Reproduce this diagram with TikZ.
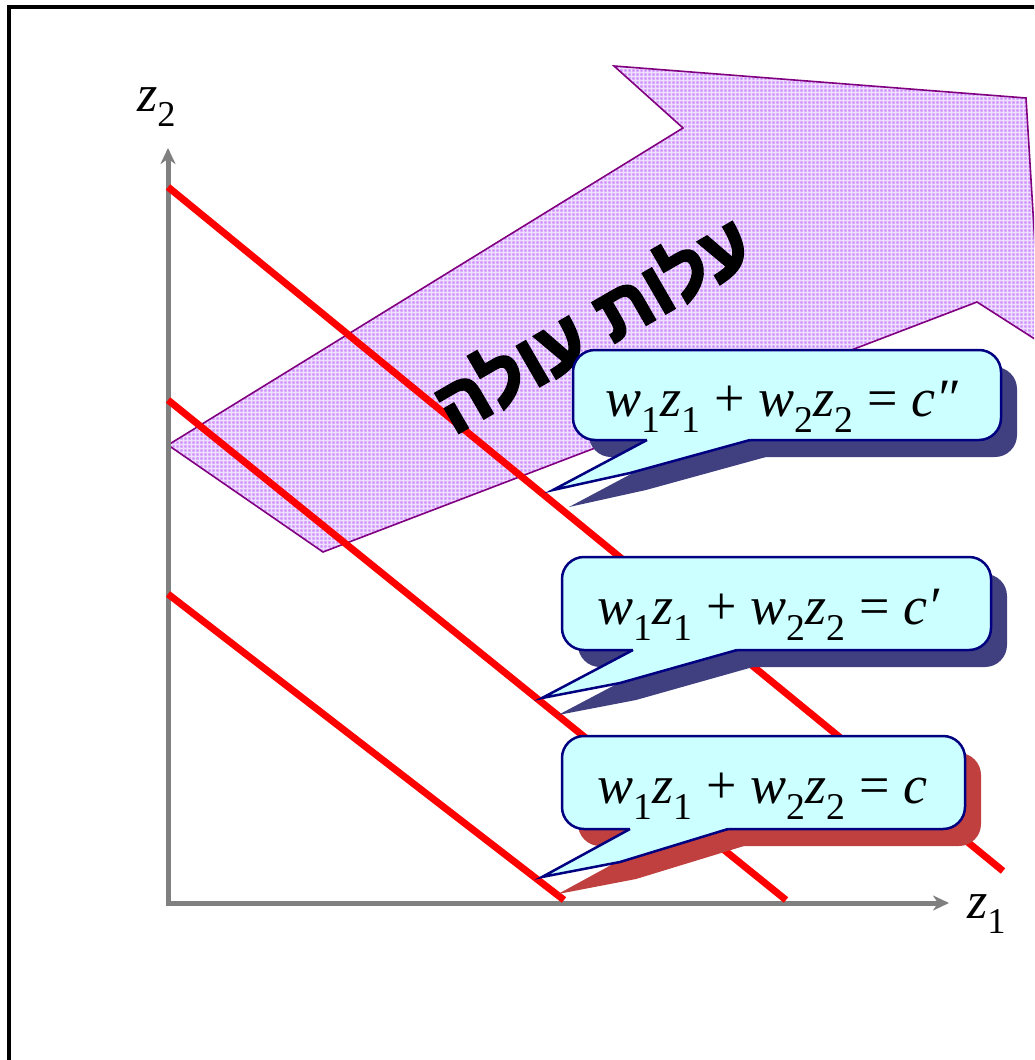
\documentclass[tikz,border=0pt]{standalone}
\usepackage{fontspec}
\setmainfont{Liberation Serif}
\newfontfamily\hebfont[Script=Hebrew, FakeBold=3]{Liberation Sans Bold}
\TeXXeTstate=1
\usetikzlibrary{arrows.meta,patterns.meta}

\definecolor{axisgray}{RGB}{128,128,128}
\definecolor{dotpurple}{RGB}{204,136,255}
\definecolor{lavbase}{RGB}{240,224,255}
\definecolor{edgepurple}{RGB}{128,0,128}
\definecolor{callfill}{RGB}{204,255,255}
\definecolor{calledge}{RGB}{0,0,128}
\definecolor{shadowblue}{RGB}{64,64,128}
\definecolor{shadowred}{RGB}{192,64,64}

\tikzdeclarepattern{name=purpledots, type=uncolored,
  bounding box={(0pt,0pt) and (4pt,4pt)}, tile size={(4pt,4pt)},
  code={\fill (0.6pt,0.6pt) rectangle (3.4pt,3.4pt);}}

\newcommand\wz[1]{\textit{w}\textsubscript{#1}\textit{z}\textsubscript{#1}}
\newcommand\eqn[1]{\wz{1} + \wz{2} = \textit{c#1}}

% L T R B wl wr tip bend shadowcolor
\newcommand\mycallout[9]{%
  \begin{scope}[shift={(16,17)}]
    \fill[#9, rounded corners=22] (#1,#2) rectangle (#3,#4);
    \fill[#9] (#5,{#4-4}) -- (#5,#4) -- (#7) -- (#8) -- (#6,#4) -- (#6,{#4-4}) -- cycle;
  \end{scope}
  \filldraw[fill=callfill, draw=calledge, line width=2.5, rounded corners=22] (#1,#2) rectangle (#3,#4);
  \fill[callfill] (#5,{#4-4}) -- (#5,#4) -- (#7) -- (#8) -- (#6,#4) -- (#6,{#4-4}) -- cycle;
  \draw[calledge, line width=2.5, line join=miter] (#5,#4) -- (#7) -- (#8) -- (#6,#4);
}

\begin{document}
\begin{tikzpicture}[x=1pt,y=-1pt,
  axisline/.style={draw=axisgray, line width=5, line join=miter,
    {Stealth[length=16pt,width=15pt,inset=5pt]}-{Stealth[length=16pt,width=15pt,inset=5pt]}},
  levelline/.style={draw=red, line width=7},
  eqtext/.style={inner sep=0pt, anchor=base west, font=\fontsize{54}{60}\selectfont},
  axislabel/.style={inner sep=0pt, anchor=base west, font=\fontsize{52}{58}\selectfont},
  hebtext/.style={inner sep=0pt, anchor=base, font=\fontsize{76}{84}\selectfont\hebfont}
]
\useasboundingbox (0,0) rectangle (1034,1060);
\fill[white] (0,0) rectangle (1034,1060);

\begin{scope}
  \clip (0,0) rectangle (1034,1060);
  % frame
  \draw[line width=4] (9,1080) -- (9,6.5) -- (1050,6.5);
  % rising cost arrow
  \fill[lavbase]
    (168,445) -- (683,128) -- (614,66) -- (1026,98) -- (1041,343) -- (977,302) -- (323,552) -- cycle;
  \fill[pattern=purpledots, pattern color=dotpurple]
    (168,445) -- (683,128) -- (614,66) -- (1026,98) -- (1041,343) -- (977,302) -- (323,552) -- cycle;
  \draw[edgepurple, line width=1.6, line join=miter]
    (168,445) -- (683,128) -- (614,66) -- (1026,98) -- (1041,343) -- (977,302) -- (323,552) -- cycle;
\end{scope}

% axes
\coordinate (ytop) at (168,148);
\coordinate (O) at (168,903);
\coordinate (xend) at (949,903);
\draw[axisline] (ytop) |- (xend);
\node[axislabel] (z2) at (137,111) {\textit{z}\textsubscript{2}};
\node[axislabel] (z1) at (967,918) {\textit{z}\textsubscript{1}};

% level lines
\coordinate (a1) at (168,187);  \coordinate (a2) at (1003,871);
\coordinate (b1) at (168,400);  \coordinate (b2) at (786,900);
\coordinate (c1) at (168,594);  \coordinate (c2) at (564,900);
\draw[levelline] (a1) -- (a2);
\draw[levelline] (b1) -- (b2);
\draw[levelline] (c1) -- (c2);

% hebrew label
\node[hebtext, rotate=30] (cost) at (606,348) {\beginR עלות עולה\endR};

% callouts
\mycallout{573}{350}{1001}{440}{647}{750}{553,490}{630,473}{shadowblue}
\mycallout{562}{557}{991}{650}{633}{737}{542,698}{620,683}{shadowblue}
\mycallout{562}{736}{965}{829}{630}{728}{542,877}{620,862}{shadowred}

\node[eqtext] (eqc2) at (605,416) {\eqn{″}};
\node[eqtext] (eqc1) at (597,624) {\eqn{′}};
\node[eqtext] (eqc0) at (597,803) {\eqn{}};
\end{tikzpicture}
\end{document}
